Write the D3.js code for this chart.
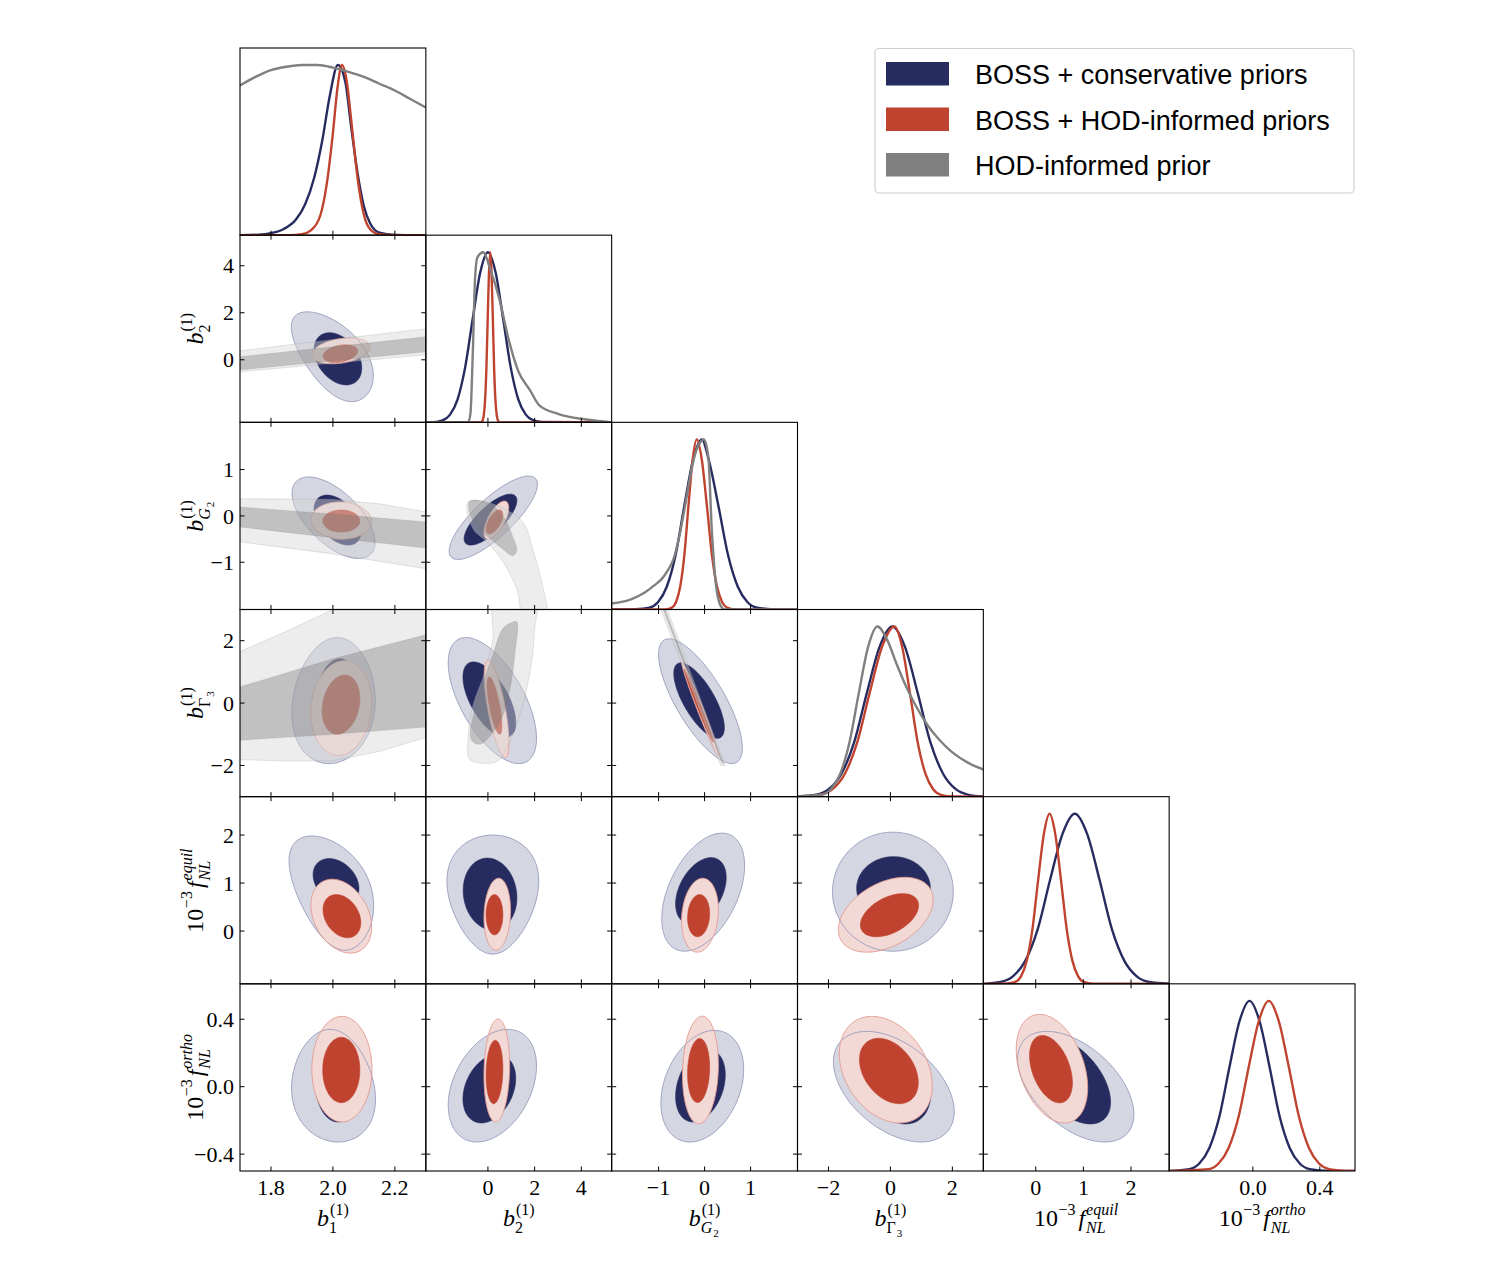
<!DOCTYPE html>
<html>
<head>
<meta charset="utf-8">
<script src="https://cdn.jsdelivr.net/npm/d3@7"></script>
<style>
  body { margin: 0; background: #fff; }
  text { font-family: "Liberation Serif", serif; fill: #000; }
</style>
</head>
<body>
<script>
const W = 1498, H = 1262;
const X0 = 240, Y0 = 48, CW = (1355 - 240) / 6, CH = (1171 - 48) / 6;

// parameters and ranges
const params = ["b1", "b2", "bG2", "bG3", "fe", "fo"];
const ranges = [[1.7, 2.3], [-2.66, 5.3], [-2.02, 2.02], [-3, 3], [-1.1, 2.8], [-0.5, 0.61]];
const xTicks = [[1.8, 2.0, 2.2], [0, 2, 4], [-1, 0, 1], [-2, 0, 2], [0, 1, 2], [0.0, 0.4]];
const yTicks = [null, [0, 2, 4], [-1, 0, 1], [-2, 0, 2], [0, 1, 2], [-0.4, 0.0, 0.4]];
const tickFmt = [".1f", "d", "d", "d", "d", ".1f"];

const navy = "#262c5f", red = "#c0432f", grey = "#808080";

// 1D marginals: [value, relative density]
const margCons = [
  [[1.7,0],[1.76,0.003],[1.80,0.012],[1.84,0.035],[1.88,0.09],[1.91,0.18],[1.94,0.34],[1.965,0.55],[1.99,0.82],[2.016,1],[2.04,0.9],[2.06,0.62],[2.08,0.36],[2.10,0.17],[2.12,0.07],[2.15,0.015],[2.2,0.002],[2.3,0]],
  [[-2.66,0],[-2.2,0.003],[-1.95,0.011],[-1.63,0.044],[-1.3,0.135],[-0.98,0.32],[-0.65,0.61],[-0.33,0.88],[0,1],[0.33,0.88],[0.65,0.61],[0.98,0.32],[1.3,0.135],[1.63,0.044],[1.95,0.011],[2.3,0.002],[5.3,0]],
  [[-2.02,0],[-1.5,0.002],[-1.2,0.011],[-1.01,0.044],[-0.82,0.135],[-0.63,0.32],[-0.44,0.61],[-0.25,0.88],[-0.06,1],[0.09,0.88],[0.3,0.61],[0.51,0.32],[0.72,0.135],[0.93,0.044],[1.14,0.011],[1.5,0.001],[2.02,0]],
  [[-3,0.001],[-2.4,0.011],[-1.99,0.044],[-1.58,0.135],[-1.17,0.32],[-0.76,0.61],[-0.35,0.88],[0.06,1],[0.47,0.88],[0.88,0.61],[1.29,0.32],[1.7,0.135],[2.11,0.044],[2.52,0.011],[3,0.001]],
  [[-1.1,0],[-0.74,0.011],[-0.48,0.044],[-0.22,0.135],[0.04,0.32],[0.3,0.61],[0.56,0.88],[0.82,1],[1.08,0.88],[1.34,0.61],[1.6,0.32],[1.86,0.135],[2.12,0.044],[2.38,0.011],[2.8,0.001]],
  [[-0.5,0.0005],[-0.38,0.011],[-0.32,0.044],[-0.26,0.135],[-0.2,0.32],[-0.14,0.61],[-0.08,0.88],[-0.02,1],[0.04,0.88],[0.10,0.61],[0.16,0.32],[0.22,0.135],[0.28,0.044],[0.34,0.011],[0.45,0.0003],[0.61,0]]
];
const margHod = [
  [[1.7,0],[1.86,0],[1.90,0.006],[1.93,0.03],[1.96,0.12],[1.98,0.3],[2.0,0.6],[2.015,0.87],[2.029,1],[2.045,0.9],[2.06,0.66],[2.08,0.33],[2.10,0.12],[2.12,0.035],[2.15,0.005],[2.2,0],[2.3,0]],
  [[-2.66,0],[-0.3,0],[-0.23,0.011],[-0.175,0.044],[-0.12,0.135],[-0.065,0.32],[-0.01,0.61],[0.045,0.88],[0.1,1],[0.155,0.88],[0.21,0.61],[0.265,0.32],[0.32,0.135],[0.375,0.044],[0.43,0.011],[0.5,0],[5.3,0]],
  [[-2.02,0],[-0.85,0],[-0.71,0.011],[-0.62,0.044],[-0.53,0.135],[-0.44,0.32],[-0.35,0.61],[-0.26,0.88],[-0.17,1],[-0.06,0.88],[0.05,0.61],[0.16,0.32],[0.27,0.135],[0.38,0.044],[0.49,0.011],[0.65,0],[2.02,0]],
  [[-3,0],[-2.8,0.001],[-2.27,0.011],[-1.87,0.044],[-1.47,0.135],[-1.07,0.32],[-0.67,0.61],[-0.27,0.88],[0.13,1],[0.38,0.88],[0.63,0.61],[0.88,0.32],[1.13,0.135],[1.38,0.044],[1.63,0.011],[2.0,0.001],[3,0]],
  [[-1.1,0],[-0.6,0.002],[-0.43,0.011],[-0.31,0.044],[-0.19,0.135],[-0.07,0.32],[0.05,0.61],[0.17,0.88],[0.29,1],[0.41,0.88],[0.53,0.61],[0.65,0.32],[0.77,0.135],[0.89,0.044],[1.01,0.011],[1.2,0.001],[2.8,0]],
  [[-0.5,0],[-0.265,0.011],[-0.205,0.044],[-0.145,0.135],[-0.085,0.32],[-0.025,0.61],[0.035,0.88],[0.095,1],[0.155,0.88],[0.215,0.61],[0.275,0.32],[0.335,0.135],[0.395,0.044],[0.455,0.011],[0.55,0.001],[0.61,0]]
];
const margPrior = [
  [[1.7,0.88],[1.75,0.93],[1.8,0.97],[1.85,0.99],[1.9,1.0],[1.95,1.0],[2.0,0.985],[2.05,0.96],[2.1,0.93],[2.15,0.89],[2.2,0.85],[2.25,0.8],[2.3,0.75]],
  [[-2.66,0],[-0.85,0],[-0.75,0.05],[-0.65,0.4],[-0.55,0.85],[-0.45,0.97],[-0.2,1.0],[0.1,0.9],[0.5,0.72],[0.9,0.48],[1.3,0.3],[1.8,0.19],[2.2,0.1],[3.0,0.05],[4.3,0.015],[5.3,0]],
  [[-2.02,0.035],[-1.6,0.06],[-1.3,0.1],[-1.1,0.14],[-0.93,0.18],[-0.8,0.23],[-0.67,0.3],[-0.55,0.43],[-0.43,0.6],[-0.32,0.77],[-0.22,0.9],[-0.1,0.98],[-0.02,1.0],[0.05,0.95],[0.09,0.87],[0.12,0.7],[0.15,0.5],[0.19,0.33],[0.22,0.22],[0.27,0.1],[0.32,0.04],[0.38,0.01],[0.43,0],[2.02,0]],
  [[-3,0],[-2.22,0.011],[-1.92,0.044],[-1.62,0.135],[-1.32,0.32],[-1.02,0.61],[-0.72,0.88],[-0.42,1],[-0.1,0.92],[0.2,0.78],[0.5,0.65],[0.8,0.54],[1.2,0.42],[1.6,0.33],[2.0,0.26],[2.5,0.2],[3.0,0.16]],
  null,
  null
];

// 2D credible regions: [row param, col param, cx, cy, sx, sy, rho, skew]
const consOuter = [
  [1,0, 1.998,0.13,0.131,1.91,-0.55,0.15],
  [2,0, 2.002,-0.04,0.134,0.88,-0.6,0],
  [3,0, 2.002,0.08,0.134,2.02,0.1,-0.1],
  [4,0, 1.995,0.79,0.134,1.19,-0.4,0.2],
  [5,0, 2.002,0.006,0.134,0.334,-0.1,-0.15],
  [2,1, 0.23,-0.04,1.89,0.90,0.8,0],
  [3,1, 0.19,0.08,1.89,2.02,-0.6,0],
  [4,1, 0.21,0.76,1.91,1.24,0,0.25],
  [5,1, 0.19,0.006,1.89,0.334,0.35,0],
  [3,2, -0.09,0.06,0.91,2.0,-0.75,0],
  [4,2, -0.03,0.81,0.90,1.23,0.45,0],
  [5,2, -0.05,0.003,0.90,0.331,0.3,0],
  [4,3, 0.08,0.82,1.95,1.24,0,0],
  [5,3, 0.11,0.0,1.95,0.328,-0.45,0],
  [5,4, 0.84,0.0,1.22,0.328,-0.5,0]
];
const consInner = [
  [1,0, 2.016,0.04,0.077,1.11,-0.35,0],
  [2,0, 2.015,-0.09,0.076,0.54,-0.45,0],
  [3,0, 2.016,0.13,0.071,1.29,0.1,0],
  [4,0, 2.01,1.03,0.074,0.48,-0.3,0],
  [5,0, 2.015,0.036,0.073,0.245,0,0],
  [2,1, 0.11,-0.08,1.13,0.55,0.75,0],
  [3,1, 0.06,0.11,1.13,1.21,-0.6,0],
  [4,1, 0.09,0.77,1.15,0.75,-0.1,0],
  [5,1, 0.06,-0.012,1.13,0.203,0.3,0],
  [3,2, -0.12,0.08,0.55,1.21,-0.72,0],
  [4,2, -0.08,0.84,0.55,0.69,0.4,0],
  [5,2, -0.09,0.006,0.54,0.215,0.3,0],
  [4,3, 0.10,0.89,1.19,0.66,0,0],
  [5,3, 0.15,0.033,1.15,0.254,-0.3,0],
  [5,4, 0.72,0.039,0.85,0.26,-0.5,0]
];
const hodOuter = [
  [1,0, 2.026,0.38,0.094,0.55,0.3,0],
  [2,0, 2.027,-0.10,0.098,0.40,-0.05,0],
  [3,0, 2.027,-0.16,0.098,1.52,0.1,0],
  [4,0, 2.027,0.31,0.098,0.77,-0.3,0],
  [5,0, 2.029,0.104,0.097,0.313,0,0],
  [2,1, 0.36,-0.09,0.53,0.41,0.65,0],
  [3,1, 0.37,-0.18,0.53,1.56,-0.7,0],
  [4,1, 0.40,0.35,0.57,0.75,0.1,0],
  [5,1, 0.38,0.096,0.55,0.305,0.1,0],
  [3,2, -0.10,-0.18,0.40,1.5,-0.985,0],
  [4,2, -0.10,0.33,0.40,0.77,0.15,0],
  [5,2, -0.09,0.099,0.39,0.319,0.1,0],
  [4,3, -0.15,0.34,1.53,0.78,0.4,0],
  [5,3, -0.15,0.101,1.50,0.316,-0.3,0],
  [5,4, 0.34,0.107,0.75,0.322,-0.35,0]
];
const hodInner = [
  [1,0, 2.024,0.26,0.056,0.38,0.3,0],
  [2,0, 2.027,-0.11,0.060,0.24,0,0],
  [3,0, 2.026,-0.05,0.061,0.95,0.2,0],
  [4,0, 2.029,0.31,0.061,0.45,-0.3,0],
  [5,0, 2.027,0.099,0.060,0.194,0,0],
  [2,1, 0.28,-0.13,0.36,0.26,0.6,0],
  [3,1, 0.28,-0.08,0.32,0.92,-0.7,0],
  [4,1, 0.28,0.34,0.36,0.42,0,0],
  [5,1, 0.28,0.087,0.36,0.188,0.1,0],
  [3,2, -0.13,-0.08,0.32,1.18,-0.99,0],
  [4,2, -0.13,0.32,0.24,0.44,0.1,0],
  [5,2, -0.13,0.096,0.24,0.19,0.1,0],
  [4,3, -0.03,0.33,0.94,0.45,0.45,0],
  [5,3, -0.05,0.093,0.95,0.194,-0.35,0],
  [5,4, 0.32,0.104,0.45,0.20,-0.4,0]
];

// HOD-informed prior regions, outlines in data units (last flag: smooth outline)
const priorOuter = [
  [1,0, [[1.7,-0.51],[2.3,0.21],[2.3,1.32],[2.0,0.86],[1.7,0.38]], false],
  [2,0, [[1.7,0.37],[2.0,0.36],[2.15,0.26],[2.3,0.09],[2.3,-1.14],[2.0,-0.82],[1.7,-0.56]], false],
  [3,0, [[1.7,1.65],[1.85,2.3],[2.0,3.0],[2.1,3.5],[2.3,3.5],[2.3,-1.10],[2.15,-1.55],[2.0,-1.85],[1.85,-1.86],[1.7,-1.81]], false],
  [2,1, [[-0.85,0.30],[0.21,0.26],[1.49,-0.13],[1.91,-0.71],[2.30,-1.42],[2.51,-2.3],[1.6,-2.3],[1.23,-1.57],[0.64,-0.99],[-0.04,-0.56],[-0.64,-0.28]], true],
  [3,1, [[0.30,3.3],[2.04,3.3],[2.0,2.39],[1.91,1.55],[1.66,0.45],[1.36,-0.39],[0.64,-1.68],[0.30,-1.90],[-0.77,-1.81],[-0.85,-1.16],[-0.64,-0.06],[-0.13,1.0],[0.21,2.06]], true],
  [3,2, [[-1.0,3.2],[-0.86,3.2],[0.45,-2.0],[0.35,-2.0]], false]
];
const priorInner = [
  [1,0, [[1.7,-0.43],[2.3,0.34],[2.3,0.98],[2.0,0.55],[1.7,0.13]], false],
  [2,0, [[1.7,0.19],[2.0,0.04],[2.3,-0.13],[2.3,-0.69],[2.0,-0.47],[1.7,-0.24]], false],
  [3,0, [[1.7,0.52],[2.0,1.42],[2.3,2.19],[2.3,-0.77],[2.0,-1.0],[1.7,-1.19]], false],
  [2,1, [[-0.77,0.32],[0.09,0.26],[0.72,-0.06],[1.02,-0.39],[1.23,-0.75],[1.06,-0.86],[0.72,-0.75],[0.09,-0.49],[-0.43,-0.24],[-0.77,0.04]], true],
  [3,1, [[1.23,2.61],[1.15,1.55],[0.94,0.45],[0.51,-0.61],[-0.34,-1.32],[-0.72,-1.16],[-0.51,-0.06],[0.21,1.55],[0.64,2.39],[1.02,2.58]], true],
  [3,2, [[-0.95,3.2],[-0.91,3.2],[0.41,-1.95],[0.39,-1.95]], false]
];

const legendItems = [
  ["BOSS + conservative priors", navy],
  ["BOSS + HOD-informed priors", red],
  ["HOD-informed prior", grey]
];

// axis labels: atoms of base / sup / sub
const axisLabels = [
  [{base:"b", it:true, sup:"(1)", sub:"1"}],
  [{base:"b", it:true, sup:"(1)", sub:"2"}],
  [{base:"b", it:true, sup:"(1)", sub:"G", subIt:true, subsub:"2"}],
  [{base:"b", it:true, sup:"(1)", sub:"Γ", subsub:"3"}],
  [{base:"10", sup:"−3", gap:3}, {base:"f", it:true, sup:"equil", sub:"NL", supIt:true, subIt:true}],
  [{base:"10", sup:"−3", gap:3}, {base:"f", it:true, sup:"ortho", sub:"NL", supIt:true, subIt:true}]
];

const svg = d3.select("body").append("svg").attr("width", W).attr("height", H);

const xs = ranges.map((r, j) => d3.scaleLinear().domain(r).range([X0 + j * CW, X0 + (j + 1) * CW]));
const ys = ranges.map((r, i) => d3.scaleLinear().domain(r).range([Y0 + (i + 1) * CH, Y0 + i * CH]));

const defs = svg.append("defs");
function clipFor(i, j) {
  const id = "c" + i + "_" + j;
  defs.append("clipPath").attr("id", id).append("rect")
    .attr("x", X0 + j * CW).attr("y", Y0 + i * CH).attr("width", CW).attr("height", CH);
  return "url(#" + id + ")";
}

function ellipse(e) {
  const [, , cx, cy, sx, sy, r, k] = e;
  const s = Math.sqrt(1 - r * r);
  const pts = [];
  for (let a = 0; a < 360; a += 3) {
    const t = a * Math.PI / 180;
    pts.push([cx + sx * Math.cos(t) * (1 + k * Math.sin(t)), cy + sy * (r * Math.cos(t) + s * Math.sin(t))]);
  }
  return pts;
}

const panels = svg.append("g");

// 2D panels
for (let i = 1; i < 6; i++) {
  for (let j = 0; j < i; j++) {
    const g = panels.append("g").attr("clip-path", clipFor(i, j));
    const lin = d3.line().x(d => xs[j](d[0])).y(d => ys[i](d[1])).curve(d3.curveLinearClosed);
    const smooth = d3.line().x(d => xs[j](d[0])).y(d => ys[i](d[1])).curve(d3.curveCatmullRomClosed.alpha(0.5));
    const pick = arr => arr.find(d => d[0] === i && d[1] === j);
    const draw = (arr, fill, stroke, sw) => {
      const e = pick(arr);
      if (!e) return;
      g.append("path").attr("d", lin(ellipse(e)))
        .attr("fill", fill).attr("stroke", stroke).attr("stroke-width", sw);
    };
    draw(consOuter, "#d4d6e1", "none", 0);
    draw(consInner, navy, navy, 0.6);
    draw(hodOuter, "#f3d9d5", "none", 0);
    draw(hodInner, red, red, 0.6);
    draw(consOuter, "none", "#979cbb", 0.9);
    draw(hodOuter, "none", "#e49a90", 0.9);

    const po = pick(priorOuter), pi = pick(priorInner);
    if (po) {
      g.append("path").attr("d", (po[3] ? smooth : lin)(po[2]))
        .attr("fill", "rgba(215,215,215,0.45)").attr("stroke", "rgba(150,150,150,0.3)").attr("stroke-width", 0.8);
    }
    if (pi) {
      g.append("path").attr("d", (pi[3] ? smooth : lin)(pi[2]))
        .attr("fill", "rgba(120,120,120,0.38)").attr("stroke", "rgba(110,110,110,0.25)").attr("stroke-width", 0.6);
    }
  }
}

// 1D panels
for (let k = 0; k < 6; k++) {
  const g = panels.append("g").attr("clip-path", clipFor(k, k));
  const yd = d3.scaleLinear().domain([0, 1.1]).range([Y0 + (k + 1) * CH, Y0 + k * CH]);
  const line = d3.line().x(d => xs[k](d[0])).y(d => yd(d[1])).curve(d3.curveMonotoneX);
  [[margCons[k], navy], [margHod[k], red], [margPrior[k], grey]].forEach(([data, col]) => {
    if (!data) return;
    g.append("path").attr("d", line(data)).attr("fill", "none")
      .attr("stroke", col).attr("stroke-width", 2.4);
  });
}

// frames and ticks
const TL = 4.5;
const axes = svg.append("g").attr("stroke", "#000").attr("stroke-width", 1);
for (let i = 0; i < 6; i++) {
  for (let j = 0; j <= i; j++) {
    const x0 = X0 + j * CW, y0 = Y0 + i * CH, x1 = x0 + CW, y1 = y0 + CH;
    axes.append("rect").attr("x", x0).attr("y", y0).attr("width", CW).attr("height", CH)
      .attr("fill", "none").attr("stroke-width", 1.1);
    xTicks[j].forEach(v => {
      const x = xs[j](v);
      axes.append("line").attr("x1", x).attr("x2", x).attr("y1", y1).attr("y2", y1 - TL);
      if (i !== j) axes.append("line").attr("x1", x).attr("x2", x).attr("y1", y0).attr("y2", y0 + TL);
    });
    if (i !== j) {
      yTicks[i].forEach(v => {
        const y = ys[i](v);
        axes.append("line").attr("x1", x0).attr("x2", x0 + TL).attr("y1", y).attr("y2", y);
        axes.append("line").attr("x1", x1).attr("x2", x1 - TL).attr("y1", y).attr("y2", y);
      });
    }
  }
}

// tick labels
const labels = svg.append("g").attr("font-size", 22);
for (let j = 0; j < 6; j++) {
  const f = d3.format(tickFmt[j]);
  xTicks[j].forEach(v => {
    labels.append("text").attr("x", xs[j](v)).attr("y", 1195)
      .attr("text-anchor", "middle").text(f(v));
  });
}
for (let i = 1; i < 6; i++) {
  const f = d3.format(tickFmt[i]);
  yTicks[i].forEach(v => {
    labels.append("text").attr("x", 234).attr("y", ys[i](v)).attr("dy", "0.35em")
      .attr("text-anchor", "end").text(f(v));
  });
}

// math-style axis names
function mathLabel(parent, atoms) {
  const g = parent.append("g");
  let x = 0;
  atoms.forEach(a => {
    const t = g.append("text").attr("x", x).attr("y", 0).attr("font-size", 24)
      .attr("font-style", a.it ? "italic" : "normal").text(a.base);
    const x2 = x + t.node().getComputedTextLength() + (a.it ? 1 : 0.5);
    let wmax = 0;
    if (a.sup) {
      const s = g.append("text").attr("x", x2).attr("y", -11).attr("font-size", 16)
        .attr("font-style", a.supIt ? "italic" : "normal").text(a.sup);
      wmax = Math.max(wmax, s.node().getComputedTextLength());
    }
    if (a.sub) {
      const s = g.append("text").attr("x", x2 - (a.it && !a.supIt ? 1 : 0)).attr("y", 7).attr("font-size", 16)
        .attr("font-style", a.subIt ? "italic" : "normal").text(a.sub);
      let ws = s.node().getComputedTextLength();
      if (a.subsub) {
        const ss = g.append("text").attr("x", x2 + ws).attr("y", 11).attr("font-size", 11).text(a.subsub);
        ws += ss.node().getComputedTextLength();
      }
      wmax = Math.max(wmax, ws);
    }
    x = x2 + wmax + (a.gap || 0);
  });
  return g;
}

const names = svg.append("g");
for (let j = 0; j < 6; j++) {
  const g = mathLabel(names, axisLabels[j]);
  const bb = g.node().getBBox();
  const cx = X0 + (j + 0.5) * CW;
  g.attr("transform", `translate(${cx - bb.x - bb.width / 2},1226)`);
}
for (let i = 1; i < 6; i++) {
  const g = mathLabel(names, axisLabels[i]);
  const bb = g.node().getBBox();
  const cy = Y0 + (i + 0.5) * CH;
  g.attr("transform", `translate(203,${cy}) rotate(-90) translate(${-bb.x - bb.width / 2},0)`);
}

// legend
const leg = svg.append("g");
leg.append("rect").attr("x", 875).attr("y", 48.5).attr("width", 479).attr("height", 144.5)
  .attr("rx", 4).attr("fill", "#fff").attr("stroke", "#cfcfcf").attr("stroke-width", 1.2);
legendItems.forEach(([name, col], n) => {
  const y = 62 + n * 45.5;
  leg.append("rect").attr("x", 886).attr("y", y).attr("width", 63).attr("height", 23.5).attr("fill", col);
  leg.append("text").attr("x", 975).attr("y", y + 22)
    .style("font-family", "'Liberation Sans', Arial, sans-serif").attr("font-size", 27).text(name);
});
</script>
</body>
</html>
